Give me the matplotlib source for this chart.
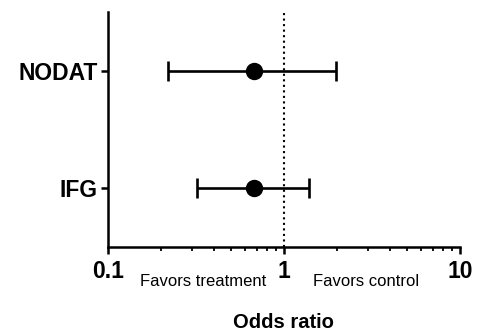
import numpy as np
import matplotlib
matplotlib.use('Agg')
import matplotlib.pyplot as plt
import matplotlib.transforms as mtransforms
from matplotlib.ticker import LogLocator, NullFormatter, FixedLocator, FixedFormatter

plt.rcParams['font.family'] = ['Liberation Sans', 'DejaVu Sans']

labels = ['NODAT', 'IFG']
odds = [0.68, 0.68]
lower = [0.22, 0.32]
upper = [1.98, 1.39]
xticks = [0.1, 1, 10]
xtick_labels = ['0.1', '1', '10']

fig = plt.figure(figsize=(4.78, 3.33), dpi=100)
ax = fig.add_axes([0.226, 0.258, 0.736, 0.706])

ypos = np.arange(len(labels))[::-1] + 1
odds = np.array(odds)
err = [odds - np.array(lower), np.array(upper) - odds]
ax.errorbar(odds, ypos, xerr=err, fmt='o', color='black', ms=11.5,
            elinewidth=1.9, capsize=7, capthick=1.9)

ax.axvline(1, color='black', ls=':', lw=1.5)

ax.set_xscale('log')
ax.set_xlim(0.1, 10)
ax.set_ylim(0.5, 2.5)
ax.xaxis.set_major_locator(FixedLocator(xticks))
ax.xaxis.set_major_formatter(FixedFormatter(xtick_labels))
ax.xaxis.set_minor_locator(LogLocator(base=10, subs=np.arange(2, 10)))
ax.xaxis.set_minor_formatter(NullFormatter())
ax.set_yticks(ypos)
ax.set_yticklabels(labels)

for s in ['top', 'right']:
    ax.spines[s].set_visible(False)
for s in ['left', 'bottom']:
    ax.spines[s].set_linewidth(1.8)

ax.tick_params(axis='both', which='major', length=5, width=1.8, labelsize=16.5)
ax.tick_params(axis='x', which='minor', length=3, width=1.3)
for t in ax.get_xticklabels() + ax.get_yticklabels():
    t.set_fontweight('bold')
ax.tick_params(axis='x', pad=4)
ax.tick_params(axis='y', pad=2.5)

trans = mtransforms.blended_transform_factory(ax.transData, ax.transAxes)
ax.text(0.346, -0.145, 'Favors treatment', transform=trans, ha='center', va='center', fontsize=12)
ax.text(2.92, -0.145, 'Favors control', transform=trans, ha='center', va='center', fontsize=12)

ax.set_xlabel('Odds ratio', fontsize=14.5, fontweight='bold', labelpad=22)

fig.savefig('out.png', dpi=100)
